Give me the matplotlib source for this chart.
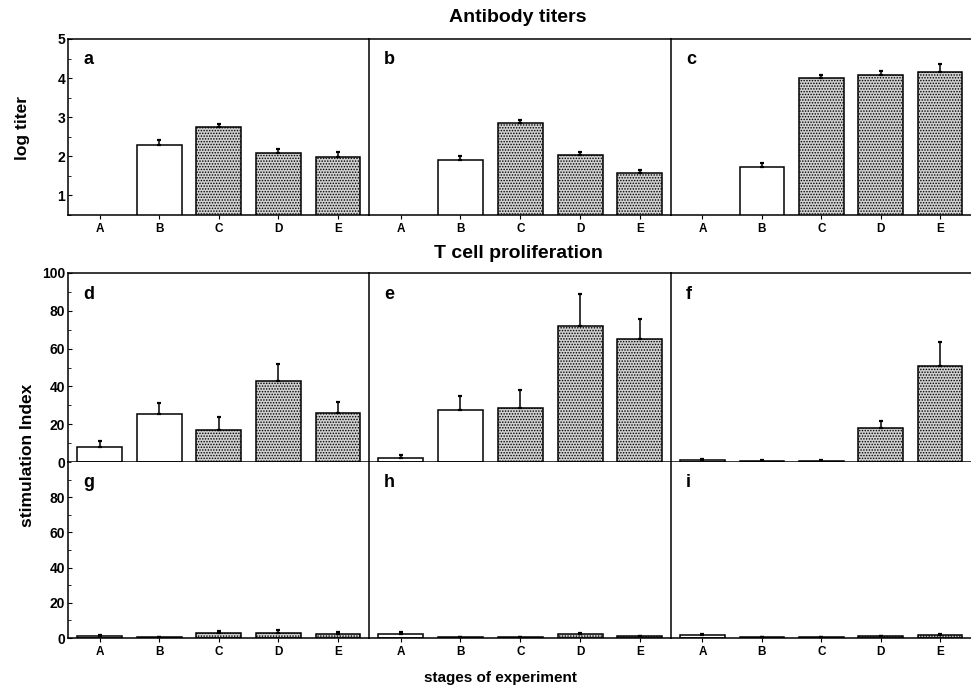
import numpy as np
import matplotlib
matplotlib.use("Agg")
import matplotlib.pyplot as plt
from matplotlib.ticker import MultipleLocator

plt.rcParams['font.family'] = ['Liberation Sans', 'DejaVu Sans']
plt.rcParams['font.weight'] = 'bold'
plt.rcParams['hatch.linewidth'] = 0.7

stages = ['A', 'B', 'C', 'D', 'E']
nan = np.nan

# Antibody titers (log titer), mean and upper error
titer_a = [nan, 2.28, 2.74, 2.08, 1.98]
titer_a_err = [0, 0.13, 0.09, 0.10, 0.13]
titer_b = [nan, 1.90, 2.84, 2.04, 1.58]
titer_b_err = [0, 0.11, 0.10, 0.06, 0.06]
titer_c = [nan, 1.72, 4.01, 4.08, 4.16]
titer_c_err = [0, 0.10, 0.08, 0.10, 0.19]

# T cell proliferation (stimulation index)
si_d = [7.8, 25.6, 17.1, 42.9, 25.9]
si_d_err = [3.5, 5.8, 6.9, 9.1, 5.7]
si_e = [2.3, 27.7, 28.4, 71.8, 65.1]
si_e_err = [1.4, 7.1, 9.9, 17.3, 10.6]
si_f = [1.0, 0.5, 0.5, 18.2, 50.6]
si_f_err = [0.5, 0.3, 0.3, 3.5, 12.9]
si_g = [1.0, 0.5, 3.0, 3.0, 2.5]
si_g_err = [0.6, 0.3, 1.0, 1.4, 0.8]
si_h = [2.0, 0.5, 0.5, 2.0, 1.0]
si_h_err = [1.5, 0.3, 0.3, 0.6, 0.3]
si_i = [1.5, 0.3, 0.5, 1.0, 1.5]
si_i_err = [1.0, 0.2, 0.2, 0.4, 0.5]

stippled = [False, False, True, True, True]

W, H = 971, 689
fig = plt.figure(figsize=(W / 100, H / 100), dpi=100)

lefts = [68, 369, 671]
pw = [301, 302, 300]
rows = {  # top, bottom px
    'top': (39, 215),
    'mid': (273, 462),
    'bot': (462, 638),
}


def make_ax(col, row):
    t, b = rows[row]
    l = lefts[col]
    return fig.add_axes([l / W, 1 - b / H, pw[col] / W, (b - t) / H])


def draw(ax, vals, errs, letter, ylim, major, minor, first, show_top=True):
    x = np.arange(len(stages))
    for xi, v, e, s in zip(x, vals, errs, stippled):
        if np.isnan(v):
            continue
        ax.bar(xi, v, width=0.75, facecolor='#d0d0d0' if s else 'white',
               edgecolor='black', linewidth=1.1,
               hatch='......' if s else None, zorder=2)
        ax.errorbar(xi, v, yerr=[[0], [e]], fmt='none', ecolor='black',
                    elinewidth=1.1, capsize=1.6, capthick=1.6, zorder=3)
    ax.set_xlim(-0.53, 4.52)
    ax.set_ylim(*ylim)
    ax.set_xticks(x)
    ax.set_xticklabels(stages, fontsize=8.5, fontweight='bold')
    ax.tick_params(axis='x', direction='out', length=3, width=0.8, pad=2.5)
    ax.spines['right'].set_visible(False)
    ax.spines['top'].set_visible(show_top)
    for sp in ax.spines.values():
        sp.set_linewidth(1.1)
    if first:
        ax.yaxis.set_major_locator(MultipleLocator(major))
        ax.yaxis.set_minor_locator(MultipleLocator(minor))
        ax.tick_params(axis='y', which='major', direction='in', length=3,
                       width=0.8, labelsize=10, pad=2)
        ax.tick_params(axis='y', which='minor', direction='in', length=2,
                       width=0.6)
        for lab in ax.get_yticklabels():
            lab.set_fontweight('bold')
    else:
        ax.tick_params(axis='y', left=False, labelleft=False, which='both')
    ax.text(0.05, 0.885, letter, transform=ax.transAxes, fontsize=13,
            fontweight='bold', va='center', ha='left')


top_data = [(titer_a, titer_a_err, 'a'), (titer_b, titer_b_err, 'b'),
            (titer_c, titer_c_err, 'c')]
mid_data = [(si_d, si_d_err, 'd'), (si_e, si_e_err, 'e'), (si_f, si_f_err, 'f')]
bot_data = [(si_g, si_g_err, 'g'), (si_h, si_h_err, 'h'), (si_i, si_i_err, 'i')]

for c, (v, e, l) in enumerate(top_data):
    ax = make_ax(c, 'top')
    draw(ax, v, e, l, (0.5, 5), 1, 0.5, c == 0)
    if c == 0:
        ax.set_yticks([1, 2, 3, 4, 5])

for c, (v, e, l) in enumerate(mid_data):
    ax = make_ax(c, 'mid')
    draw(ax, v, e, l, (0, 100), 20, 10, c == 0)
    ax.tick_params(axis='x', labelbottom=False, bottom=False)

for c, (v, e, l) in enumerate(bot_data):
    ax = make_ax(c, 'bot')
    draw(ax, v, e, l, (0, 100), 20, 10, c == 0, show_top=False)
    if c == 0:
        ax.set_yticks([0, 20, 40, 60, 80])

fig.text(518 / W, 1 - 17 / H, 'Antibody titers', ha='center', va='center',
         fontsize=14, fontweight='bold')
fig.text(518 / W, 1 - 254 / H, 'T cell proliferation', ha='center',
         va='center', fontsize=14, fontweight='bold')
fig.text(22 / W, 1 - 128 / H, 'log titer', rotation=90, ha='center',
         va='center', fontsize=12.5, fontweight='bold')
fig.text(27 / W, 1 - 455 / H, 'stimulation Index', rotation=90, ha='center',
         va='center', fontsize=12.5, fontweight='bold')
fig.text(500 / W, 1 - 678 / H, 'stages of experiment', ha='center',
         va='center', fontsize=11, fontweight='bold')

fig.savefig('out.png', dpi=100)
